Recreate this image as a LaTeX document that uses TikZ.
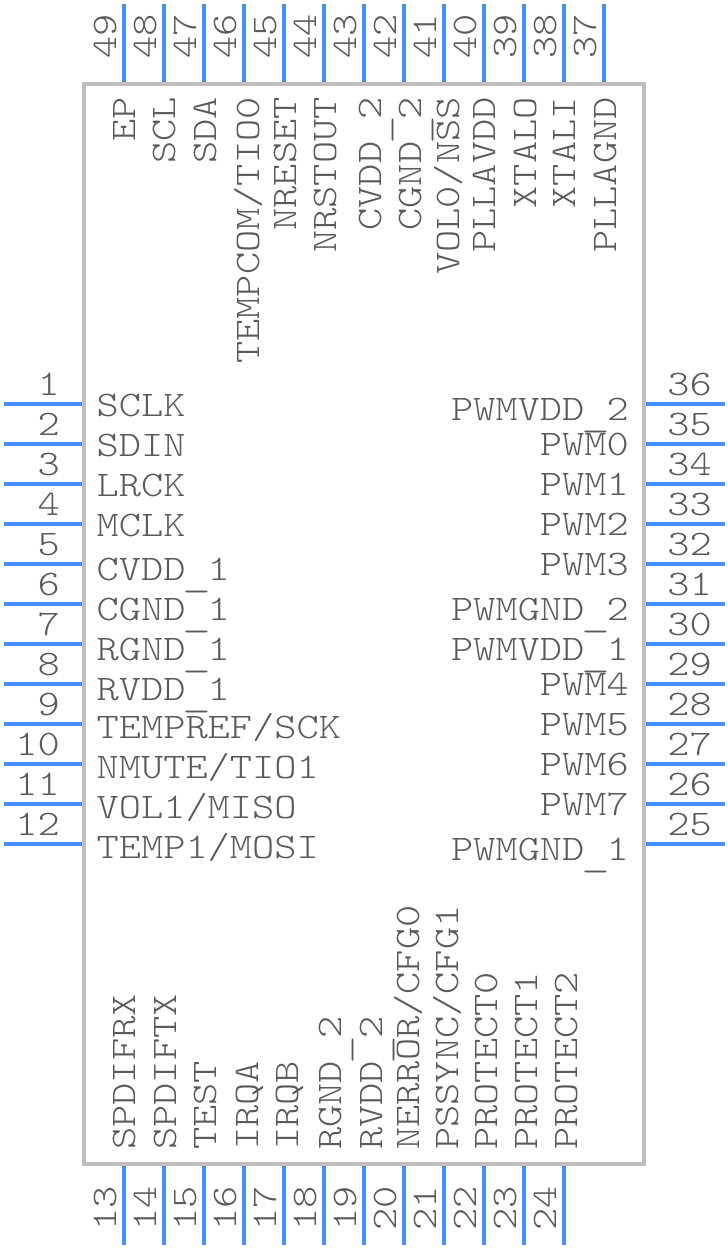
\documentclass[tikz,border=0pt]{standalone}
\usepackage{fontspec}
\setmonofont[FakeStretch=1.175]{Latin Modern Mono Light}
\newcommand{\usc}{\raisebox{-6pt}{\makebox[22.2pt][c]{\scalebox{1.3}[1]{\_}}}}
\definecolor{leadblue}{HTML}{478FFF}
\definecolor{bodygrey}{HTML}{BFBFBF}
\definecolor{textgrey}{HTML}{5A5A5A}
\begin{document}
\begin{tikzpicture}[x=1pt,y=-1pt,
    body/.style={draw=bodygrey,line width=4pt,rectangle,minimum width=560pt,minimum height=1080pt,inner sep=0pt},
    lead/.style={draw=leadblue,line width=4pt},
    lbl/.style={text=textgrey,inner sep=0pt,font=\fontsize{36}{36}\selectfont\ttfamily},
    numl/.style={lbl,anchor=base east},numr/.style={lbl,anchor=base east},
    numt/.style={lbl,rotate=90,anchor=base west},numb/.style={lbl,rotate=90,anchor=base west},
    sigl/.style={lbl,anchor=base west},sigr/.style={lbl,anchor=base east},
    sigt/.style={lbl,rotate=90,anchor=base east},sigb/.style={lbl,rotate=90,anchor=base west}]
    \useasboundingbox (0,0) rectangle (728,1248);
    \node[body] (body) at (364,624) {};
    \coordinate (e1) at (3.5,404); \draw[lead] (e1) -- (e1 -| body.west); \node[numl] (n1) at (60,395.5) {1}; \node[sigl] (s1) at (96.5,416.7) {SCLK};
    \coordinate (e2) at (3.5,444); \draw[lead] (e2) -- (e2 -| body.west); \node[numl] (n2) at (60,435.5) {2}; \node[sigl] (s2) at (96.5,456.7) {SDIN};
    \coordinate (e3) at (3.5,484); \draw[lead] (e3) -- (e3 -| body.west); \node[numl] (n3) at (60,475.5) {3}; \node[sigl] (s3) at (96.5,496.7) {LRCK};
    \coordinate (e4) at (3.5,524); \draw[lead] (e4) -- (e4 -| body.west); \node[numl] (n4) at (60,515.5) {4}; \node[sigl] (s4) at (96.5,536.7) {MCLK};
    \coordinate (e5) at (3.5,564); \draw[lead] (e5) -- (e5 -| body.west); \node[numl] (n5) at (60,555.5) {5}; \node[sigl] (s5) at (96.5,580.7) {CVDD\usc 1};
    \coordinate (e6) at (3.5,604); \draw[lead] (e6) -- (e6 -| body.west); \node[numl] (n6) at (60,595.5) {6}; \node[sigl] (s6) at (96.5,620.7) {CGND\usc 1};
    \coordinate (e7) at (3.5,644); \draw[lead] (e7) -- (e7 -| body.west); \node[numl] (n7) at (60,635.5) {7}; \node[sigl] (s7) at (96.5,660.7) {RGND\usc 1};
    \coordinate (e8) at (3.5,684); \draw[lead] (e8) -- (e8 -| body.west); \node[numl] (n8) at (60,675.5) {8}; \node[sigl] (s8) at (96.5,700.7) {RVDD\usc 1};
    \coordinate (e9) at (3.5,724); \draw[lead] (e9) -- (e9 -| body.west); \node[numl] (n9) at (60,715.5) {9}; \node[sigl] (s9) at (96.5,738.3) {TEMPREF/SCK};
    \coordinate (e10) at (3.5,764); \draw[lead] (e10) -- (e10 -| body.west); \node[numl] (n10) at (60,755.5) {10}; \node[sigl] (s10) at (96.5,778.3) {NMUTE/TIO1};
    \coordinate (e11) at (3.5,804); \draw[lead] (e11) -- (e11 -| body.west); \node[numl] (n11) at (60,795.5) {11}; \node[sigl] (s11) at (96.5,818.3) {VOL1/MISO};
    \coordinate (e12) at (3.5,844); \draw[lead] (e12) -- (e12 -| body.west); \node[numl] (n12) at (60,835.5) {12}; \node[sigl] (s12) at (96.5,858.3) {TEMP1/MOSI};
    \coordinate (e13) at (124,1245); \draw[lead] (e13) -- (e13 |- body.south); \node[numb] (n13) at (116.7,1231) {13}; \node[sigb] (s13) at (135.7,1150) {SPDIFRX};
    \coordinate (e14) at (164,1245); \draw[lead] (e14) -- (e14 |- body.south); \node[numb] (n14) at (156.7,1231) {14}; \node[sigb] (s14) at (176,1150) {SPDIFTX};
    \coordinate (e15) at (204,1245); \draw[lead] (e15) -- (e15 |- body.south); \node[numb] (n15) at (196.7,1231) {15}; \node[sigb] (s15) at (216,1150) {TEST};
    \coordinate (e16) at (244,1245); \draw[lead] (e16) -- (e16 |- body.south); \node[numb] (n16) at (236.7,1231) {16}; \node[sigb] (s16) at (258.3,1150) {IRQA};
    \coordinate (e17) at (284,1245); \draw[lead] (e17) -- (e17 |- body.south); \node[numb] (n17) at (276.7,1231) {17}; \node[sigb] (s17) at (298,1150) {IRQB};
    \coordinate (e18) at (324,1245); \draw[lead] (e18) -- (e18 |- body.south); \node[numb] (n18) at (316.7,1231) {18}; \node[sigb] (s18) at (341,1150) {RGND\usc 2};
    \coordinate (e19) at (364,1245); \draw[lead] (e19) -- (e19 |- body.south); \node[numb] (n19) at (356.7,1231) {19}; \node[sigb] (s19) at (382,1150) {RVDD\usc 2};
    \coordinate (e20) at (404,1245); \draw[lead] (e20) -- (e20 |- body.south); \node[numb] (n20) at (396.7,1231) {20}; \node[sigb] (s20) at (419,1150) {NERROR/CFG0};
    \coordinate (e21) at (444,1245); \draw[lead] (e21) -- (e21 |- body.south); \node[numb] (n21) at (436.7,1231) {21}; \node[sigb] (s21) at (458,1150) {PSSYNC/CFG1};
    \coordinate (e22) at (484,1245); \draw[lead] (e22) -- (e22 |- body.south); \node[numb] (n22) at (476.7,1231) {22}; \node[sigb] (s22) at (497,1150) {PROTECT0};
    \coordinate (e23) at (524,1245); \draw[lead] (e23) -- (e23 |- body.south); \node[numb] (n23) at (516.7,1231) {23}; \node[sigb] (s23) at (537,1150) {PROTECT1};
    \coordinate (e24) at (564,1245); \draw[lead] (e24) -- (e24 |- body.south); \node[numb] (n24) at (556.7,1231) {24}; \node[sigb] (s24) at (577,1150) {PROTECT2};
    \coordinate (e25) at (725,844); \draw[lead] (e25) -- (e25 -| body.east); \node[numr] (n25) at (712,835.5) {25}; \node[sigr] (s25) at (629,860) {PWMGND\usc 1};
    \coordinate (e26) at (725,804); \draw[lead] (e26) -- (e26 -| body.east); \node[numr] (n26) at (712,795.5) {26}; \node[sigr] (s26) at (629,815.7) {PWM7};
    \coordinate (e27) at (725,764); \draw[lead] (e27) -- (e27 -| body.east); \node[numr] (n27) at (712,755.5) {27}; \node[sigr] (s27) at (629,775.7) {PWM6};
    \coordinate (e28) at (725,724); \draw[lead] (e28) -- (e28 -| body.east); \node[numr] (n28) at (712,715.5) {28}; \node[sigr] (s28) at (629,735.7) {PWM5};
    \coordinate (e29) at (725,684); \draw[lead] (e29) -- (e29 -| body.east); \node[numr] (n29) at (712,675.5) {29}; \node[sigr] (s29) at (629,695.7) {PWM4};
    \coordinate (e30) at (725,644); \draw[lead] (e30) -- (e30 -| body.east); \node[numr] (n30) at (712,635.5) {30}; \node[sigr] (s30) at (629,660.7) {PWMVDD\usc 1};
    \coordinate (e31) at (725,604); \draw[lead] (e31) -- (e31 -| body.east); \node[numr] (n31) at (712,595.5) {31}; \node[sigr] (s31) at (629,620.7) {PWMGND\usc 2};
    \coordinate (e32) at (725,564); \draw[lead] (e32) -- (e32 -| body.east); \node[numr] (n32) at (712,555.5) {32}; \node[sigr] (s32) at (629,575.7) {PWM3};
    \coordinate (e33) at (725,524); \draw[lead] (e33) -- (e33 -| body.east); \node[numr] (n33) at (712,515.5) {33}; \node[sigr] (s33) at (629,535.7) {PWM2};
    \coordinate (e34) at (725,484); \draw[lead] (e34) -- (e34 -| body.east); \node[numr] (n34) at (712,475.5) {34}; \node[sigr] (s34) at (629,495.7) {PWM1};
    \coordinate (e35) at (725,444); \draw[lead] (e35) -- (e35 -| body.east); \node[numr] (n35) at (712,435.5) {35}; \node[sigr] (s35) at (629,455.7) {PWM0};
    \coordinate (e36) at (725,404); \draw[lead] (e36) -- (e36 -| body.east); \node[numr] (n36) at (712,395.5) {36}; \node[sigr] (s36) at (629,420.3) {PWMVDD\usc 2};
    \coordinate (e37) at (604,3.5); \draw[lead] (e37) -- (e37 |- body.north); \node[numt] (n37) at (596.7,59) {37}; \node[sigt] (s37) at (616,97) {PLLAGND};
    \coordinate (e38) at (564,3.5); \draw[lead] (e38) -- (e38 |- body.north); \node[numt] (n38) at (556.7,59) {38}; \node[sigt] (s38) at (575.3,97) {XTALI};
    \coordinate (e39) at (524,3.5); \draw[lead] (e39) -- (e39 |- body.north); \node[numt] (n39) at (516.7,59) {39}; \node[sigt] (s39) at (536,97) {XTALO};
    \coordinate (e40) at (484,3.5); \draw[lead] (e40) -- (e40 |- body.north); \node[numt] (n40) at (476.7,59) {40}; \node[sigt] (s40) at (495,97) {PLLAVDD};
    \coordinate (e41) at (444,3.5); \draw[lead] (e41) -- (e41 |- body.north); \node[numt] (n41) at (436.7,59) {41}; \node[sigt] (s41) at (459.3,97) {VOL0/NSS};
    \coordinate (e42) at (404,3.5); \draw[lead] (e42) -- (e42 |- body.north); \node[numt] (n42) at (396.7,59) {42}; \node[sigt] (s42) at (421.7,97) {CGND\usc 2};
    \coordinate (e43) at (364,3.5); \draw[lead] (e43) -- (e43 |- body.north); \node[numt] (n43) at (356.7,59) {43}; \node[sigt] (s43) at (381.7,97) {CVDD\usc 2};
    \coordinate (e44) at (324,3.5); \draw[lead] (e44) -- (e44 |- body.north); \node[numt] (n44) at (316.7,59) {44}; \node[sigt] (s44) at (336,97) {NRSTOUT};
    \coordinate (e45) at (284,3.5); \draw[lead] (e45) -- (e45 |- body.north); \node[numt] (n45) at (276.7,59) {45}; \node[sigt] (s45) at (296,97) {NRESET};
    \coordinate (e46) at (244,3.5); \draw[lead] (e46) -- (e46 |- body.north); \node[numt] (n46) at (236.7,59) {46}; \node[sigt] (s46) at (259.3,97) {TEMPCOM/TIO0};
    \coordinate (e47) at (204,3.5); \draw[lead] (e47) -- (e47 |- body.north); \node[numt] (n47) at (196.7,59) {47}; \node[sigt] (s47) at (216,97) {SDA};
    \coordinate (e48) at (164,3.5); \draw[lead] (e48) -- (e48 |- body.north); \node[numt] (n48) at (156.7,59) {48}; \node[sigt] (s48) at (175.7,97) {SCL};
    \coordinate (e49) at (124,3.5); \draw[lead] (e49) -- (e49 |- body.north); \node[numt] (n49) at (116.7,59) {49}; \node[sigt] (s49) at (135,97) {EP};
\end{tikzpicture}
\end{document}
